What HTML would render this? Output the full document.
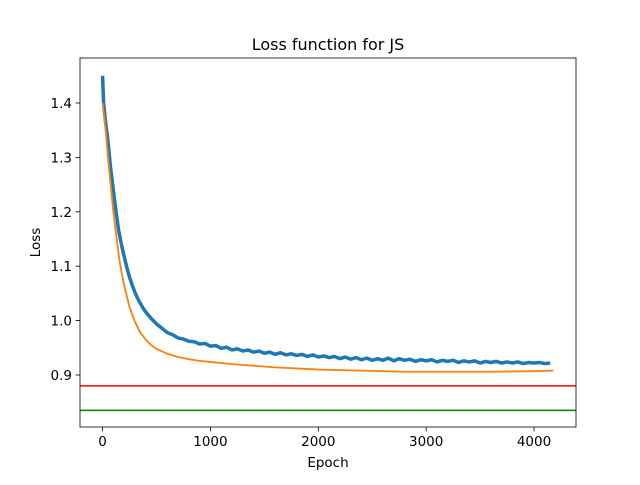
<!DOCTYPE html>
<html><head><meta charset="utf-8"><style>
html,body{margin:0;padding:0;background:#fff;}
svg text{font-family:"DejaVu Sans","Liberation Sans",sans-serif;fill:#000;}
</style></head><body>
<svg id="chart" width="640" height="480" xmlns="http://www.w3.org/2000/svg">
<rect width="640" height="480" fill="#fff"/>
<g id="plot"></g>
</svg>
<script>
const xTicks=[0,1000,2000,3000,4000];
const yTicks=[0.9,1.0,1.1,1.2,1.3,1.4];
const yTickLabels=["0.9","1.0","1.1","1.2","1.3","1.4"];
const blueEpochs=[0,10,25,50,75,100,125,150,175,200,225,250,275,300,325,350,375,400,425,450,475,500,
550,600,650,700,750,800,850,900,950,1000,1050,1100,1150,1200,1250,1300,1350,1400,1450,1500,1550,1600,1650,1700,1750,1800,1850,1900,1950,2000,2050,2100,2150,2200,2250,2300,2350,2400,2450,2500,2550,2600,2650,2700,2750,2800,2850,2900,2950,3000,3050,3100,3150,3200,3250,3300,3350,3400,3450,3500,3550,3600,3650,3700,3750,3800,3850,3900,3950,4000,4050,4100,4150,4180];
const blueLoss=[1.45,1.40,1.37,1.33,1.28,1.24,1.20,1.165,1.14,1.118,1.098,1.08,1.065,1.052,1.041,1.032,1.023,1.016,1.01,1.004,0.999,0.994,
0.986,0.978,0.974,0.968,0.966,0.962,0.961,0.957,0.958,0.953,0.954,0.949,0.951,0.946,0.948,0.944,0.946,0.942,0.944,0.940,0.942,0.938,0.941,0.937,0.939,0.936,0.938,0.934,0.937,0.933,0.935,0.932,0.934,0.930,0.933,0.929,0.932,0.928,0.931,0.927,0.930,0.927,0.931,0.926,0.930,0.927,0.929,0.925,0.928,0.926,0.928,0.924,0.927,0.925,0.927,0.923,0.926,0.924,0.926,0.922,0.925,0.923,0.925,0.922,0.924,0.922,0.924,0.921,0.923,0.922,0.923,0.921,0.922];
const orangeEpochs=[0,25,50,75,100,125,150,175,200,250,300,350,400,450,500,600,700,800,900,1000,1200,1400,1600,1800,2000,2400,2800,3200,3600,4000,4180];
const orangeLoss=[1.40,1.36,1.30,1.25,1.20,1.16,1.12,1.09,1.065,1.025,0.998,0.978,0.965,0.955,0.948,0.939,0.933,0.929,0.926,0.924,0.920,0.917,0.914,0.912,0.910,0.908,0.906,0.906,0.906,0.907,0.908];
const redLevel=0.88, greenLevel=0.835;

const L=80,R=576,T=58,B=427,xmin=-209,xmax=4389,ymin=0.8044,ymax=1.4827;
const sx=v=>L+(v-xmin)/(xmax-xmin)*(R-L);
const sy=v=>B-(v-ymin)/(ymax-ymin)*(B-T);
const NS="http://www.w3.org/2000/svg";
const g=document.getElementById('plot');
function mk(tag,attrs,parent){const e=document.createElementNS(NS,tag);for(const k in attrs)e.setAttribute(k,attrs[k]);(parent||g).appendChild(e);return e;}
function path(xs,ys,color,w,name){
  const d=xs.map((x,i)=>(i?'L':'M')+sx(x).toFixed(2)+','+sy(ys[i]).toFixed(2)).join('');
  const p=mk('path',{d:d,fill:'none',stroke:color,'stroke-width':w,'stroke-linejoin':'round'});
  
  
}
path(blueEpochs,blueLoss,'#1f77b4',3.5,'js-loss-line');
path(orangeEpochs,orangeLoss,'#ff7f0e',1.8,'second-loss-line');
const red=mk('line',{x1:L,x2:R,y1:sy(redLevel),y2:sy(redLevel),stroke:'#ff0000','stroke-width':1.5});


const green=mk('line',{x1:L,x2:R,y1:sy(greenLevel),y2:sy(greenLevel),stroke:'#008000','stroke-width':1.5});


const frame=mk('rect',{x:L,y:T,width:R-L,height:B-T,fill:'none',stroke:'#000','stroke-width':0.8});


xTicks.forEach(v=>{
  const x=sx(v);
  mk('line',{x1:x,x2:x,y1:B,y2:B+4.5,stroke:'#000','stroke-width':0.8});
  const t=mk('text',{x:x,y:B+19,'text-anchor':'middle','font-size':13.5});
  t.textContent=v;
  
  
});
yTicks.forEach((v,i)=>{
  const y=sy(v);
  mk('line',{x1:L-4.5,x2:L,y1:y,y2:y,stroke:'#000','stroke-width':0.8});
  const t=mk('text',{x:L-8,y:y+5,'text-anchor':'end','font-size':13.5});
  t.textContent=yTickLabels[i];
  
  
});
const title=mk('text',{x:(L+R)/2,y:50,'text-anchor':'middle','font-size':16});
title.textContent='Loss function for JS';


const xl=mk('text',{x:(L+R)/2,y:467,'text-anchor':'middle','font-size':13.5});
xl.textContent='Epoch';


const yl=mk('text',{x:0,y:0,'text-anchor':'middle','font-size':13.5,transform:'translate(40,'+((T+B)/2)+') rotate(-90)'});
yl.textContent='Loss';


</script>
</body></html>
